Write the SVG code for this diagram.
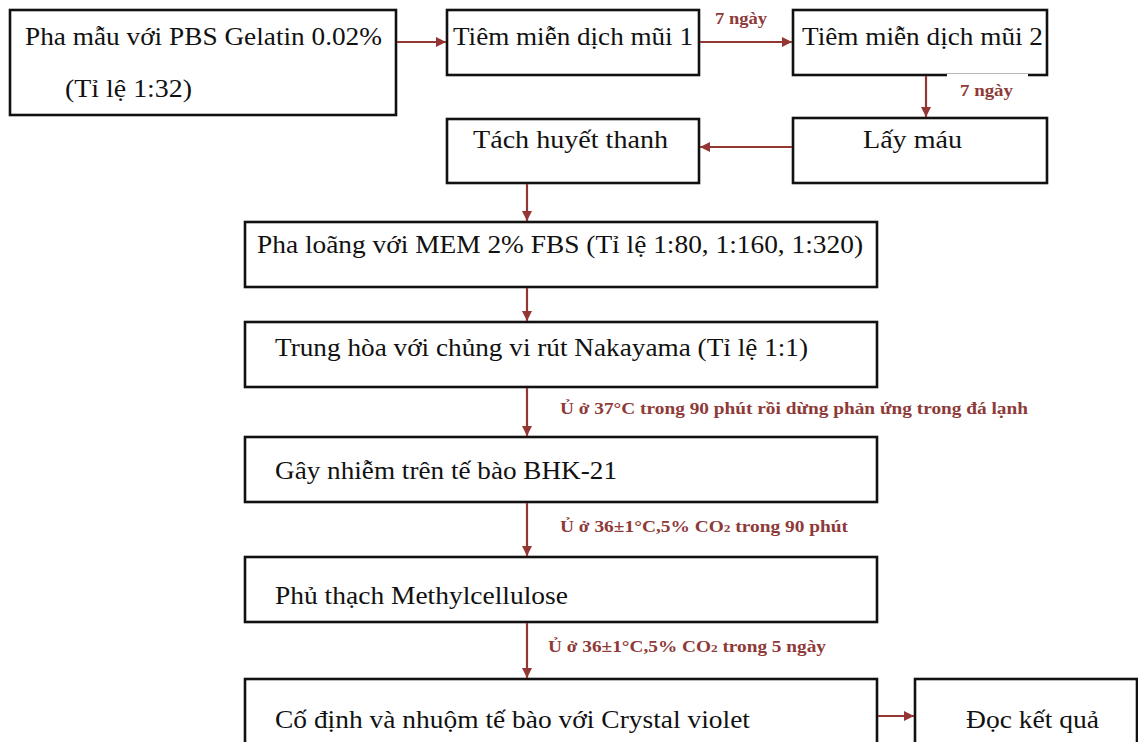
<svg xmlns="http://www.w3.org/2000/svg" width="1138" height="742" viewBox="0 0 1138 742">
<defs>
<style>
.box{fill:#fff;stroke:#111;stroke-width:2.6}
.t{font-family:"Liberation Serif","Times New Roman",serif;font-size:24.5px;fill:#111}
.lb{font-family:"Liberation Serif","Times New Roman",serif;font-size:16px;font-weight:bold;fill:#8e3a38}
.c{stroke:#943634;stroke-width:2.2;fill:none;marker-end:url(#ah)}
</style>
<marker id="ah" viewBox="0 0 10 10" refX="10" refY="5" markerWidth="11" markerHeight="10" markerUnits="userSpaceOnUse" orient="auto">
<path d="M0,0 L10,5 L0,10 z" fill="#943634"/>
</marker>
</defs>
<rect width="1138" height="742" fill="#fff"/>
<g id="n1"><rect class="box" x="10" y="10" width="386" height="105"/>
<text class="t" x="25" y="45" textLength="357" lengthAdjust="spacingAndGlyphs">Pha mẫu với PBS Gelatin 0.02%</text>
<text class="t" x="65" y="97" textLength="127" lengthAdjust="spacingAndGlyphs">(Tỉ lệ 1:32)</text></g>
<g id="n2"><rect class="box" x="447" y="10" width="252" height="65"/>
<text class="t" x="453" y="45" textLength="240" lengthAdjust="spacingAndGlyphs">Tiêm miễn dịch mũi 1</text></g>
<g id="n3"><rect class="box" x="793" y="10" width="254" height="65"/>
<text class="t" x="802" y="45" textLength="241" lengthAdjust="spacingAndGlyphs">Tiêm miễn dịch mũi 2</text></g>
<g id="n4"><rect class="box" x="793" y="118" width="254" height="65"/>
<text class="t" x="863" y="148" textLength="99" lengthAdjust="spacingAndGlyphs">Lấy máu</text></g>
<g id="n5"><rect class="box" x="447" y="119" width="252" height="64"/>
<text class="t" x="473" y="148" textLength="195" lengthAdjust="spacingAndGlyphs">Tách huyết thanh</text></g>
<g id="n6"><rect class="box" x="245" y="222" width="632" height="65"/>
<text class="t" x="257" y="253" textLength="606" lengthAdjust="spacingAndGlyphs">Pha loãng với MEM 2% FBS (Tỉ lệ 1:80, 1:160, 1:320)</text></g>
<g id="n7"><rect class="box" x="245" y="322" width="632" height="65"/>
<text class="t" x="275" y="356" textLength="533" lengthAdjust="spacingAndGlyphs">Trung hòa với chủng vi rút Nakayama (Tỉ lệ 1:1)</text></g>
<g id="n8"><rect class="box" x="245" y="437" width="632" height="65"/>
<text class="t" x="275" y="479" textLength="342" lengthAdjust="spacingAndGlyphs">Gây nhiễm trên tế bào BHK-21</text></g>
<g id="n9"><rect class="box" x="245" y="557" width="632" height="65"/>
<text class="t" x="275" y="604" textLength="293" lengthAdjust="spacingAndGlyphs">Phủ thạch Methylcellulose</text></g>
<g id="n10"><rect class="box" x="245" y="679" width="632" height="80"/>
<text class="t" x="275" y="728" textLength="475" lengthAdjust="spacingAndGlyphs">Cố định và nhuộm tế bào với Crystal violet</text></g>
<g id="n11"><rect class="box" x="915" y="679" width="222" height="80"/>
<text class="t" x="966" y="728" textLength="133" lengthAdjust="spacingAndGlyphs">Đọc kết quả</text></g>
<g id="connectors">
<line class="c" x1="397" y1="42" x2="446" y2="42"/>
<line class="c" x1="700" y1="42" x2="792" y2="42"/>
<line class="c" x1="926" y1="76" x2="926" y2="117"/>
<line class="c" x1="792" y1="147" x2="700" y2="147"/>
<line class="c" x1="527" y1="184" x2="527" y2="221"/>
<line class="c" x1="527" y1="288" x2="527" y2="321"/>
<line class="c" x1="527" y1="388" x2="527" y2="436"/>
<line class="c" x1="527" y1="503" x2="527" y2="556"/>
<line class="c" x1="527" y1="623" x2="527" y2="678"/>
<line class="c" x1="878" y1="716" x2="914" y2="716"/>
</g>
<g id="labels">
<text class="lb" x="715" y="24" textLength="52" lengthAdjust="spacingAndGlyphs">7 ngày</text>
<rect x="947" y="74" width="81" height="28" fill="#fff"/>
<text class="lb" x="960" y="96" textLength="53" lengthAdjust="spacingAndGlyphs">7 ngày</text>
<text class="lb" x="560" y="414" textLength="468" lengthAdjust="spacingAndGlyphs">Ủ ở 37°C trong 90 phút rồi dừng phản ứng trong đá lạnh</text>
<text class="lb" x="560" y="532" textLength="288" lengthAdjust="spacingAndGlyphs">Ủ ở 36±1°C,5% CO<tspan font-size="11">2</tspan> trong 90 phút</text>
<text class="lb" x="548" y="652" textLength="278" lengthAdjust="spacingAndGlyphs">Ủ ở 36±1°C,5% CO<tspan font-size="11">2</tspan> trong 5 ngày</text>
</g>
</svg>
